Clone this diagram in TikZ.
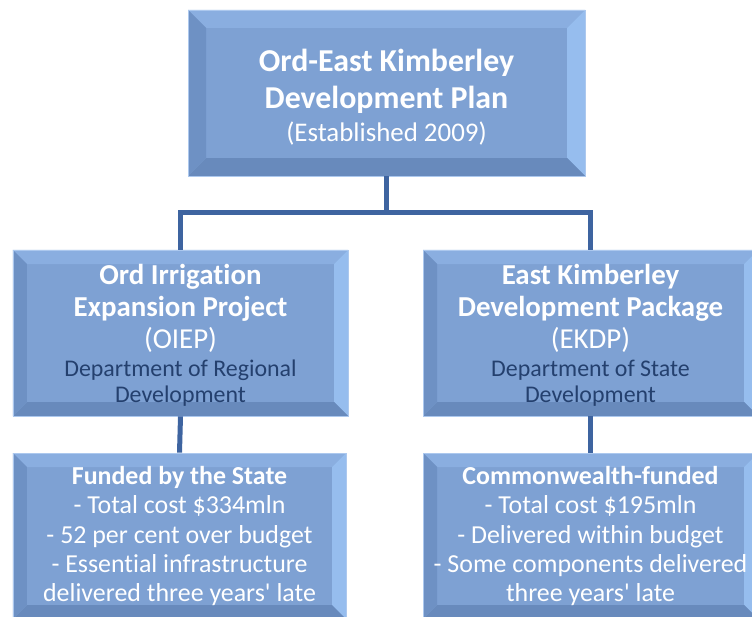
\documentclass[tikz,border=0pt]{standalone}
\usepackage{fontspec}
\setmainfont{Carlito}[Ligatures={NoCommon}]
\usetikzlibrary{calc}
\definecolor{face}{RGB}{126,161,211}
\definecolor{bevT}{RGB}{138,174,224}
\definecolor{bevR}{RGB}{150,189,238}
\definecolor{bevL}{RGB}{110,145,196}
\definecolor{bevB}{RGB}{104,138,188}
\definecolor{edge}{RGB}{172,200,238}
\definecolor{dept}{RGB}{36,64,110}
\definecolor{conn}{RGB}{62,100,160}
\tikzset{
  bevelbox/.style={fill=face, draw=edge, line width=0.8bp, inner sep=0pt,
    align=center, text=white,
    path picture={
      \coordinate (pNW) at (path picture bounding box.north west);
      \coordinate (pNE) at (path picture bounding box.north east);
      \coordinate (pSW) at (path picture bounding box.south west);
      \coordinate (pSE) at (path picture bounding box.south east);
      \fill[bevT] (pNW) -- (pNE) -- ($(pNE)+(-#1,-#1)$) -- ($(pNW)+(#1,-#1)$) -- cycle;
      \fill[bevR] (pNE) -- (pSE) -- ($(pSE)+(-#1,#1)$) -- ($(pNE)+(-#1,-#1)$) -- cycle;
      \fill[bevB] (pSE) -- (pSW) -- ($(pSW)+(#1,#1)$) -- ($(pSE)+(-#1,#1)$) -- cycle;
      \fill[bevL] (pSW) -- (pNW) -- ($(pNW)+(#1,-#1)$) -- ($(pSW)+(#1,#1)$) -- cycle;
    }},
  conn/.style={draw=conn, line width=5bp},
}
\newcommand\deptfont{\fontsize{24}{26}\selectfont\color{dept}}
\begin{document}
\begin{tikzpicture}[x=1bp,y=-1bp]
\useasboundingbox (0,0) rectangle (752,617);
\clip (0,0) rectangle (752,617);
\node[bevelbox=18bp, minimum width=397bp, minimum height=166bp,
      font=\fontsize{32}{37}\selectfont] (top) at (386.5,93)
  {\rule{0pt}{31bp}\textbf{Ord-East Kimberley}\\\textbf{Development Plan}\\[-3bp]{\fontsize{27}{26}\selectfont(Established 2009)}};
\node[bevelbox=14bp, minimum width=335bp, minimum height=166bp,
      font=\fontsize{29}{32}\selectfont] (ml) at (180.5,333)
  {\rule{0pt}{25bp}\textbf{Ord Irrigation}\\\textbf{Expansion Project}\\(OIEP)\\[-3bp]{\deptfont Department of Regional}\\[-6bp]{\deptfont Development}};
\node[bevelbox=14bp, minimum width=335bp, minimum height=166bp,
      font=\fontsize{29}{32}\selectfont] (mr) at (590.5,333)
  {\rule{0pt}{25bp}\textbf{East Kimberley}\\\textbf{Development Package}\\(EKDP)\\[-3bp]{\deptfont Department of State}\\[-6bp]{\deptfont Development}};
\node[bevelbox=14bp, minimum width=333bp, minimum height=166bp,
      font=\fontsize{26}{29.5}\selectfont] (bl) at (179.5,536)
  {\textbf{Funded by the State}\\- Total cost \$334mln\\- 52 per cent over budget\\- Essential infrastructure\\delivered three years\textquotesingle{} late};
\node[bevelbox=14bp, minimum width=335bp, minimum height=166bp,
      font=\fontsize{26}{29.5}\selectfont] (br) at (590.5,536)
  {\textbf{Commonwealth-funded}\\- Total cost \$195mln\\- Delivered within budget\\- Some components delivered\\three years\textquotesingle{} late};
\coordinate (bar) at (0,212);
\draw[conn] (top.south) -- (top.south |- bar);
\draw[conn] (ml.north) |- (top.south |- bar) -| (mr.north);
\draw[conn] (ml.south) -- (bl.north);
\draw[conn] (mr.south) -- (br.north);
\end{tikzpicture}
\end{document}
